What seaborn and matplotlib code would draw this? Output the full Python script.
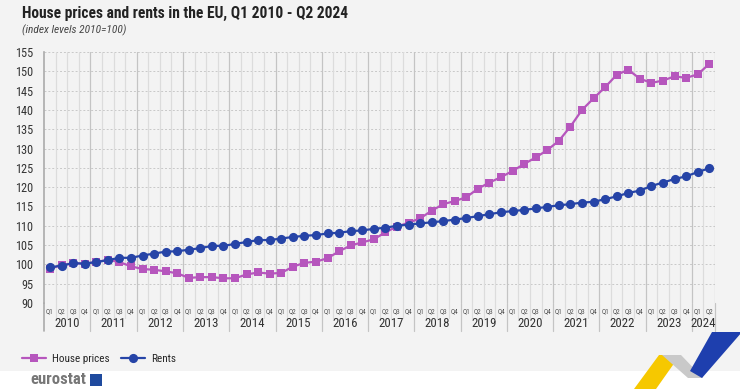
import numpy as np
import pandas as pd
import matplotlib
matplotlib.use("Agg")
import matplotlib.pyplot as plt
import seaborn as sns
from matplotlib import font_manager
from matplotlib.lines import Line2D
from matplotlib.patches import Polygon, Rectangle

# Data (index levels 2010=100)
years = [str(y) for y in range(2010, 2025)]
quarters = ["Q1", "Q2", "Q3", "Q4"]
house_prices = [
    98.9, 99.8, 100.3, 100.2,    # 2010
    100.6, 101.2, 100.6, 99.5,   # 2011
    98.8, 98.6, 98.2, 97.7,      # 2012
    96.5, 96.7, 96.7, 96.4,      # 2013
    96.4, 97.4, 97.9, 97.6,      # 2014
    97.8, 99.4, 100.4, 100.7,    # 2015
    101.6, 103.4, 104.9, 105.7,  # 2016
    106.5, 108.3, 109.8, 110.8,  # 2017
    111.9, 113.9, 115.6, 116.4,  # 2018
    117.4, 119.6, 121.2, 122.6,  # 2019
    124.2, 126.0, 127.7, 129.6,  # 2020
    132.0, 135.7, 140.0, 143.0,  # 2021
    145.9, 149.1, 150.4, 148.1,  # 2022
    147.0, 147.6, 148.7, 148.3,  # 2023
    149.2, 151.9,                # 2024
]
rents = [
    99.2, 99.7, 100.3, 100.2,    # 2010
    100.6, 101.1, 101.7, 101.7,  # 2011
    102.3, 102.8, 103.3, 103.4,  # 2012
    103.8, 104.2, 104.8, 104.8,  # 2013
    105.3, 105.8, 106.3, 106.3,  # 2014
    106.7, 107.1, 107.4, 107.6,  # 2015
    108.0, 108.2, 108.6, 108.8,  # 2016
    109.2, 109.5, 110.0, 110.3,  # 2017
    110.6, 110.9, 111.2, 111.6,  # 2018
    112.0, 112.5, 113.0, 113.5,  # 2019
    113.8, 114.1, 114.5, 114.9,  # 2020
    115.3, 115.6, 116.0, 116.2,  # 2021
    116.9, 117.6, 118.5, 119.1,  # 2022
    120.3, 121.2, 122.1, 122.8,  # 2023
    123.9, 124.9,                # 2024
]
y_ticks = list(range(90, 160, 5))

n = len(house_prices)
quarter_labels = [quarters[i % 4] for i in range(n)]

df = pd.DataFrame({
    "idx": list(range(n)) * 2,
    "value": house_prices + rents,
    "series": ["House prices"] * n + ["Rents"] * n,
})

bg = "#f3f3f3"
sns.set_theme(style="white")

# pick the narrowest font that is available
available = {f.name for f in font_manager.fontManager.ttflist}
main_font = "DejaVu Sans"
for cand in ["Roboto Condensed", "Liberation Sans Narrow", "Open Sans Condensed", "Roboto", "Liberation Sans"]:
    if cand in available:
        main_font = cand
        break
plt.rcParams["font.family"] = [main_font, "DejaVu Sans"]

fig = plt.figure(figsize=(7.4, 3.89), dpi=100, facecolor=bg)
W, H = 740, 389
ax = fig.add_axes([44.2 / W, 1 - 303 / H, (715 - 44.2) / W, (303 - 52) / H])
ax.set_facecolor(bg)

palette = {"House prices": "#b656bd", "Rents": "#2644a7"}
sns.lineplot(data=df, x="idx", y="value", hue="series", style="series",
             palette=palette, markers={"House prices": "s", "Rents": "o"},
             dashes=False, linewidth=1.6, markersize=6, markeredgewidth=0,
             ax=ax, zorder=3)
for line in ax.lines:
    if line.get_marker() == "o":
        line.set_markersize(6.6)

ax.set_xlim(-0.5, n - 0.5)
ax.set_ylim(90, 155)
ax.set_yticks(y_ticks)
ax.set_yticklabels([str(t) for t in y_ticks], fontsize=8.8, color="#333333")
ax.tick_params(axis="y", length=0, pad=8)
ax.set_xticks(range(n))
ax.set_xticklabels(quarter_labels, fontsize=5, color="#555555")
ax.tick_params(axis="x", length=0, pad=4)
ax.set_xlabel("")
ax.set_ylabel("")

for s in ["top", "right", "bottom"]:
    ax.spines[s].set_visible(False)
ax.spines["left"].set_color("#aaaaaa")
ax.spines["left"].set_linewidth(1.2)

# horizontal dashed gridlines
for t in y_ticks:
    ax.axhline(t, color="#c8c8c8", linewidth=0.7, linestyle=(0, (2, 2)), zorder=1)

# vertical lines at quarter boundaries, darker between years
xt = ax.get_xaxis_transform()
for b in range(1, n + 1):
    xb = b - 0.5
    is_year = (b % 4 == 0) or b == n
    ax.add_line(Line2D([xb, xb], [0, 1], transform=xt, zorder=1,
                       color="#c4c4c4" if is_year else "#dcdcdc", linewidth=0.9))
    ax.add_line(Line2D([xb, xb], [-0.06 if not is_year else -0.11, 0], transform=xt,
                       clip_on=False, color="#c4c4c4" if is_year else "#dcdcdc", linewidth=0.9))
ax.add_line(Line2D([-0.5, -0.5], [-0.11, 0], transform=xt, clip_on=False,
                   color="#aaaaaa", linewidth=1.2))

# year labels under the quarter labels
for k, yr in enumerate(years):
    start = 4 * k
    end = min(start + 3, n - 1)
    ax.text((start + end) / 2, -0.083, yr, transform=xt, ha="center", va="center",
            fontsize=9.3, color="#333333")

# titles
fig.text(22 / W, 1 - 13 / H, "House prices and rents in the EU, Q1 2010 - Q2 2024",
         fontsize=11.2, fontweight="bold", color="#222222", va="center")
fig.text(22 / W, 1 - 30 / H, "(index levels 2010=100)", fontsize=8.2,
         style="italic", color="#444444", va="center")

# legend below the chart
handles, labels = ax.get_legend_handles_labels()
ax.get_legend().remove()
fig.legend(handles, labels, loc="center left", bbox_to_anchor=(12 / W, 1 - 359 / H),
           ncol=2, frameon=False, fontsize=8, handlelength=2.2,
           columnspacing=1.0, handletextpad=0.5)

# footer band with logo text and ribbons
fig.patches.append(Rectangle((0, 0), 1, 18.5 / H, transform=fig.transFigure,
                             facecolor="white", edgecolor="none", zorder=0))
fig.text(30 / W, 1.5 / H, "eurostat", fontsize=12, fontweight="bold",
         color="#777777", va="bottom")
fig.patches.append(Rectangle((90 / W, 3 / H), 12 / W, 12 / H,
                             transform=fig.transFigure, facecolor="#1f4a9e",
                             edgecolor="none"))


def px_poly(points, color):
    pts = [(x / W, 1 - y / H) for x, y in points]
    fig.patches.append(Polygon(pts, closed=True, transform=fig.transFigure,
                               facecolor=color, edgecolor="none"))


px_poly([(634, 389), (656, 389), (680, 355), (659, 355)], "#f6c800")
px_poly([(662, 355), (681, 355), (703, 378), (688, 378)], "#c9c9c9")
px_poly([(690, 371), (702, 378), (742, 332), (712, 332)], "#1e3fae")

fig.savefig("out.png", dpi=100, facecolor=bg)
